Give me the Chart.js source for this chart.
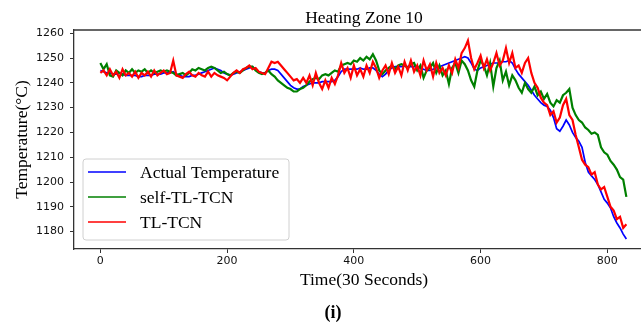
<!DOCTYPE html>
<html><head><meta charset="utf-8">
<script src="https://cdn.jsdelivr.net/npm/chart.js@4/dist/chart.umd.min.js"></script>
<style>
html,body{margin:0;padding:0;overflow:hidden;background:#fff;width:641px;height:327px}
#wrap{position:absolute;left:0;top:0;width:656px;height:327px}
canvas{display:block}
</style>
</head><body><div id="wrap"><canvas id="c" width="656" height="327" style="width:656px;height:327px"></canvas></div>
<script>
const titleText = 'Heating Zone 10';
const xTitle = 'Time(30 Seconds)';
const yTitle = 'Temperature(°C)';
const panelLabel = '(i)';
const seriesLabels = ['Actual Temperature', 'self-TL-TCN', 'TL-TCN'];
const xTicks = [0, 200, 400, 600, 800];
const yTicks = [1180, 1190, 1200, 1210, 1220, 1230, 1240, 1250, 1260];

const times = [
0,5,10,15,20,25,30,35,40,45,
50,55,60,65,70,75,80,85,90,95,
100,105,110,115,120,125,130,135,140,145,
150,155,160,165,170,175,180,185,190,195,
200,205,210,215,220,225,230,235,240,245,
250,255,260,265,270,275,280,285,290,295,
300,305,310,315,320,325,330,335,340,345,
350,355,360,365,370,375,380,385,390,395,
400,405,410,415,420,425,430,435,440,445,
450,455,460,465,470,475,480,485,490,495,
500,505,510,515,520,525,530,535,540,545,
550,555,560,565,570,575,580,585,590,595,
600,605,610,615,620,625,630,635,640,645,
650,655,660,665,670,675,680,685,690,695,
700,705,710,715,720,725,730,735,740,745,
750,755,760,765,770,775,780,785,790,795,
800,805,810,815,820,825,830];

const actualTemp = [
1245,1244.5,1244,1244,1243.5,1243.5,1244,1243.5,1243,1243,
1243,1243,1242.5,1242.5,1243,1243,1243,1243.5,1243.5,1243.5,
1244,1244,1244,1244.5,1243.5,1243,1242.5,1242.5,1242.5,1243,
1243,1243.5,1244,1244.5,1245,1245.5,1246,1245.5,1245,1244,
1243.5,1243,1243.5,1244,1244.5,1245,1245.5,1246,1246.5,1245.5,
1244.5,1244,1244,1245,1245.5,1245.5,1245,1243.5,1242,1240.5,
1239,1238,1237.5,1237.5,1238.5,1239,1239.5,1240,1240,1240,
1240.5,1240.5,1240.5,1240.5,1241,1242.5,1244.5,1245.5,1245.5,1245.5,
1245.5,1245.5,1246,1245.5,1245.5,1246,1246,1245,1243.5,1242.5,
1243.5,1245,1246,1246.5,1246.5,1246.5,1247,1246.5,1246.5,1246.5,
1246.5,1246,1245.5,1245,1245,1245.5,1246,1246.5,1247,1247.5,
1248,1248.5,1249,1249.5,1250,1250.5,1250,1248,1245.5,1245,
1246,1246.5,1247,1247.5,1248,1248,1248,1248.5,1248.5,1249,
1248,1245.5,1243.5,1242,1240.5,1239,1237,1235,1233.5,1232,
1231,1230.5,1229,1226,1221.5,1220.5,1222.5,1225,1223,1220,
1218,1216.5,1214,1208,1204,1202.5,1201,1199,1196,1193,
1191.5,1189.5,1186,1183.5,1181.5,1179,1177];

const selfTLTCN = [
1248,1245.5,1247.5,1243,1242.5,1245,1244,1243,1245,1244,
1245.5,1244,1245,1244.5,1245.5,1244,1245,1244,1244.5,1245,
1244.5,1245,1244.5,1244,1243,1243.5,1244,1243,1244,1245.5,
1245,1246,1245.5,1245,1246,1246.5,1246,1245,1244,1244.5,
1243.5,1243,1244,1244.5,1244,1245,1246,1246.5,1246.5,1245,
1244,1243.5,1244,1245,1243.5,1242.5,1241,1240,1239,1238,
1237.5,1236.5,1236.5,1237.5,1238,1239,1240.5,1241.5,1242,1241.5,
1243,1243.5,1243,1244,1245,1244.5,1247,1247.5,1248,1247.5,
1249,1248.5,1250,1249,1250.5,1249.5,1251.5,1249,1245,1243.5,
1245,1246,1247,1245.5,1247,1247.5,1247,1246,1247.5,1248,
1245,1247,1242,1245,1246,1248,1244,1247,1243,1245,
1239.5,1246,1248,1244,1249,1247.5,1245,1241,1238.5,1245,
1249,1247,1243,1248,1238.5,1246,1249,1241,1244.5,1239,
1243,1241,1238,1236,1240,1237.5,1236,1238.5,1235,1236.5,
1233.5,1235.5,1232,1230.5,1233,1232,1235,1236,1237.5,1230,
1227,1225,1224,1222,1221,1219.5,1220,1219,1214,1212,
1211,1208.5,1207,1205,1202,1201,1194];

const tlTCN = [
1244,1245,1243,1245.5,1243,1244.5,1242,1245.5,1243,1244,
1242.5,1244.5,1242,1244,1243,1244.5,1242.5,1245,1243,1244,
1245,1243.5,1244,1249,1243,1242.5,1242,1243.5,1244.5,1243,
1242.5,1244,1243,1242.5,1244.5,1242.5,1244,1243,1242.5,1242,
1241,1242.5,1244,1245,1244,1245.5,1246,1247,1245.5,1246,
1244.5,1244,1243.5,1246,1248.5,1248,1248.5,1247,1245.5,1244,
1242.5,1241,1241.5,1240,1242,1240,1243,1239,1244,1240,
1237.5,1241,1238,1242,1239.5,1243,1248,1244,1246,1242,
1247,1243,1245.5,1242.5,1247,1244,1248.5,1246,1242,1245,
1247,1243.5,1248,1244,1246.5,1243,1248.5,1245,1249,1244.5,
1247,1243,1249,1245,1247.5,1242.5,1248,1244,1246,1243,
1247,1244,1249.5,1246,1252,1254,1257,1250,1245.5,1248,
1251,1246,1249.5,1245,1248,1252,1247,1249,1254,1248,
1252,1246,1247,1244,1248,1250,1244,1240,1238,1234,
1232,1231,1227,1228.5,1224,1226,1231,1233.5,1227,1225,
1219,1214,1209,1207,1206,1203,1204,1199,1197,1198,
1194,1190,1188.5,1185,1186,1181.5,1183];

const seriesColors = ['#0000ff', '#008000', '#ff0000'];

function pts(arr) { return times.map((t, i) => ({x: t, y: arr[i]})); }

const decor = {
  id: 'decor',
  afterDatasetsDraw(chart) {
    const {ctx, chartArea: a} = chart;
    ctx.save();
    ctx.strokeStyle = '#333';
    ctx.lineWidth = 1.3;
    ctx.beginPath(); ctx.moveTo(a.left, a.top); ctx.lineTo(a.right, a.top); ctx.stroke();
    const bx = 83, by = 159, bw = 206, bh = 81, r = 3;
    ctx.beginPath();
    ctx.moveTo(bx + r, by);
    ctx.lineTo(bx + bw - r, by); ctx.quadraticCurveTo(bx + bw, by, bx + bw, by + r);
    ctx.lineTo(bx + bw, by + bh - r); ctx.quadraticCurveTo(bx + bw, by + bh, bx + bw - r, by + bh);
    ctx.lineTo(bx + r, by + bh); ctx.quadraticCurveTo(bx, by + bh, bx, by + bh - r);
    ctx.lineTo(bx, by + r); ctx.quadraticCurveTo(bx, by, bx + r, by);
    ctx.closePath();
    ctx.fillStyle = 'rgba(255,255,255,0.85)';
    ctx.fill();
    ctx.strokeStyle = '#d0d0d0';
    ctx.lineWidth = 1;
    ctx.stroke();
    ctx.font = "17.5px 'Liberation Serif'";
    ctx.textAlign = 'left';
    ctx.textBaseline = 'alphabetic';
    chart.data.datasets.forEach((ds, i) => {
      const y = 172 + i * 25;
      ctx.strokeStyle = ds.borderColor;
      ctx.lineWidth = 1.5;
      ctx.beginPath(); ctx.moveTo(88, y); ctx.lineTo(126, y); ctx.stroke();
      ctx.fillStyle = '#000';
      ctx.fillText(ds.label, 140, y + 6);
    });
    ctx.restore();
  },
  afterDraw(chart) {
    const {ctx, chartArea: a} = chart;
    ctx.save();
    ctx.fillStyle = '#000';
    ctx.textAlign = 'center';
    ctx.textBaseline = 'alphabetic';
    ctx.font = "17.5px 'Liberation Serif'";
    ctx.fillText(titleText, (a.left + a.right) / 2, 23);
    ctx.font = "bold 18px 'Liberation Serif'";
    ctx.fillText(panelLabel, 333, 318);
    ctx.restore();
  }
};

new Chart(document.getElementById('c'), {
  type: 'line',
  data: {
    datasets: [
      {label: seriesLabels[0], data: pts(actualTemp), borderColor: seriesColors[0], borderWidth: 1.7, order: 3},
      {label: seriesLabels[1], data: pts(selfTLTCN), borderColor: seriesColors[1], borderWidth: 2.2, order: 2},
      {label: seriesLabels[2], data: pts(tlTCN), borderColor: seriesColors[2], borderWidth: 2.2, order: 1}
    ]
  },
  options: {
    responsive: false,
    animation: false,
    layout: {padding: {top: 30, right: 2, left: 0, bottom: 0}},
    elements: {point: {radius: 0}, line: {tension: 0, fill: false}},
    plugins: {legend: {display: false}, tooltip: {enabled: false}, title: {display: false}},
    scales: {
      x: {
        type: 'linear',
        min: -41.6, max: 873.6,
        afterFit(s) { s.height = 78; },
        afterBuildTicks(s) { s.ticks = xTicks.map(v => ({value: v})); },
        grid: {display: true, drawOnChartArea: false, drawTicks: true, tickLength: 4, color: '#333'},
        border: {display: true, color: '#333', width: 1.3},
        ticks: {color: '#111', padding: 2, maxRotation: 0, font: {family: 'DejaVu Sans', size: 11}, callback: v => String(v)},
        title: {display: true, text: xTitle, color: '#000', font: {family: 'Liberation Serif', size: 17.5}, padding: {top: 0, bottom: 36.5}}
      },
      y: {
        min: 1173.0, max: 1261.3,
        afterFit(s) { s.width = 74; },
        afterBuildTicks(s) { s.ticks = yTicks.map(v => ({value: v})); },
        grid: {display: true, drawOnChartArea: false, drawTicks: true, tickLength: 4, color: '#333'},
        border: {display: true, color: '#333', width: 1.3},
        ticks: {color: '#111', padding: 6, font: {family: 'DejaVu Sans', size: 11}, callback: v => String(v)},
        title: {display: true, text: yTitle, color: '#000', font: {family: 'Liberation Serif', size: 17.5}, padding: {top: 11.5, bottom: 0}}
      }
    }
  },
  plugins: [decor]
});
</script>
</body></html>
